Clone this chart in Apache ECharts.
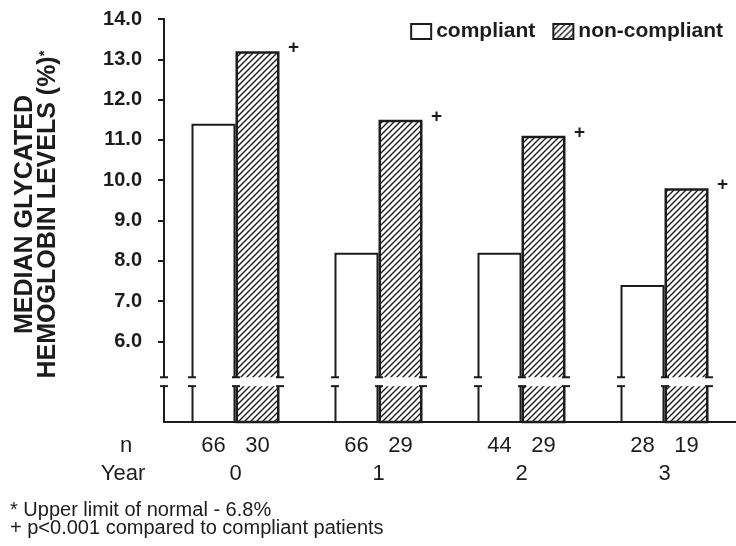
<!DOCTYPE html>
<html>
<head>
<meta charset="utf-8">
<script src="https://cdn.jsdelivr.net/npm/echarts@6/dist/echarts.min.js"></script>
<style>
html,body{margin:0;padding:0;background:#fff;}
#chart{width:736px;height:546px;}
</style>
</head>
<body>
<div id="chart"></div>
<script>
// ---- data ----
const categories = ['0', '1', '2', '3'];
const compliant = [11.4, 8.2, 8.2, 7.4];
const nonCompliant = [13.2, 11.5, 11.1, 9.8];
const nCompliant = [66, 66, 44, 28];
const nNonCompliant = [30, 29, 29, 19];
const yTicks = [6, 7, 8, 9, 10, 11, 12, 13, 14];
const seriesNames = ['compliant', 'non-compliant'];
const breakValue = 5;        // axis break drawn around this value
const breakHalf = 0.11;
const notes = ['* Upper limit of normal - 6.8%', '+ p<0.001 compared to compliant patients'];

// ---- hatch pattern ----
function makeHatch() {
  const s = 6;
  const c = document.createElement('canvas');
  c.width = s; c.height = s;
  const ctx = c.getContext('2d');
  ctx.fillStyle = '#fff';
  ctx.fillRect(0, 0, s, s);
  ctx.strokeStyle = '#1e1e1e';
  ctx.lineWidth = 1.4;
  ctx.beginPath();
  ctx.moveTo(-1, s + 1); ctx.lineTo(s + 1, -1);
  ctx.moveTo(-1, 1); ctx.lineTo(1, -1);
  ctx.moveTo(s - 1, s + 1); ctx.lineTo(s + 1, s - 1);
  ctx.stroke();
  return c;
}
const hatch = { image: makeHatch(), repeat: 'repeat' };

const FONT = "'Liberation Sans', Arial, sans-serif";
const INK = '#1c1c1c';

const chart = echarts.init(document.getElementById('chart'), null, { renderer: 'canvas' });

const option = {
  backgroundColor: '#fff',
  animation: false,
  textStyle: { fontFamily: FONT, color: INK },
  grid: { left: 164, right: -3, top: 19, bottom: 124, containLabel: false },
  legend: {
    data: seriesNames,
    right: 8, top: 16,
    itemWidth: 20, itemHeight: 15, itemGap: 17,
    icon: 'rect',
    textStyle: { fontFamily: FONT, fontSize: 21, fontWeight: 'bold', color: INK }
  },
  xAxis: {
    type: 'category',
    data: categories,
    boundaryGap: true,
    axisLine: { show: true, lineStyle: { color: INK, width: 2 } },
    axisTick: { show: false },
    splitLine: { show: false },
    axisLabel: {
      margin: 10,
      interval: 0,
      formatter: function (val, idx) {
        return '{a|' + nCompliant[idx] + '}{b|' + nNonCompliant[idx] + '}\n{y|' + val + '}';
      },
      rich: {
        a: { width: 44, align: 'center', fontSize: 22, lineHeight: 28, fontFamily: FONT, color: INK },
        b: { width: 44, align: 'center', fontSize: 22, lineHeight: 28, fontFamily: FONT, color: INK },
        y: { width: 88, align: 'center', fontSize: 22, lineHeight: 28, fontFamily: FONT, color: INK }
      }
    }
  },
  yAxis: {
    type: 'value',
    min: 4, max: 14, interval: 1,
    name: 'MEDIAN GLYCATED\nHEMOGLOBIN LEVELS (%){sup|*}',
    nameLocation: 'middle',
    nameRotate: 90,
    nameGap: 104,
    nameTextStyle: {
      fontFamily: FONT, fontSize: 25, fontWeight: 'bold', color: INK, lineHeight: 23,
      padding: [0, 0, 0, 12],
      rich: { sup: { fontSize: 15, fontWeight: 'bold', verticalAlign: 'top', lineHeight: 23, padding: [0, 0, 8, 0] } }
    },
    axisLine: { show: true, lineStyle: { color: INK, width: 2 } },
    axisTick: { show: true, inside: false, length: 6, customValues: yTicks, lineStyle: { color: INK, width: 2 } },
    axisLabel: {
      customValues: yTicks,
      margin: 22,
      fontFamily: FONT, fontSize: 20, fontWeight: 'bold', color: INK,
      formatter: function (v) { return v.toFixed(1); }
    },
    splitLine: { show: false }
  },
  series: [
    {
      name: seriesNames[0],
      type: 'bar',
      data: compliant,
      barWidth: 44,
      barGap: '0%',
      itemStyle: { color: '#fff', borderColor: INK, borderWidth: 2 },
      label: { show: false }
    },
    {
      name: seriesNames[1],
      type: 'bar',
      data: nonCompliant,
      barWidth: 44,
      barGap: '0%',
      itemStyle: { color: hatch, borderColor: INK, borderWidth: 2.5 },
      label: {
        show: true,
        formatter: '+',
        position: [58, -3],
        align: 'center',
        verticalAlign: 'middle',
        fontSize: 19,
        fontWeight: 'bold',
        fontFamily: FONT,
        color: INK
      }
    }
  ]
};

chart.setOption(option);

// ---- axis break + row titles + notes (positions derived from the library's scales) ----
function decorate() {
  const yTop = chart.convertToPixel({ yAxisIndex: 0 }, breakValue + breakHalf);
  const yBot = chart.convertToPixel({ yAxisIndex: 0 }, breakValue - breakHalf);
  const xs = [chart.getModel().getComponent('grid', 0).coordinateSystem.getRect().x];
  for (let s = 0; s < 2; s++) {
    const d = chart.getModel().getSeriesByIndex(s).getData();
    for (let i = 0; i < d.count(); i++) {
      const l = d.getItemLayout(i);
      xs.push(l.x, l.x + l.width);
    }
  }
  const gfx = [];
  gfx.push({
    type: 'rect', z: 50,
    shape: { x: xs[0] - 10, y: yTop, width: 800, height: yBot - yTop },
    style: { fill: '#fff' }
  });
  const uniq = Array.from(new Set(xs.map(v => Math.round(v))));
  uniq.forEach(function (x) {
    [yTop, yBot].forEach(function (y) {
      gfx.push({
        type: 'line', z: 51,
        shape: { x1: x - 4, y1: y, x2: x + 4, y2: y },
        style: { stroke: INK, lineWidth: 2 }
      });
    });
  });
  const yAxisLine = chart.convertToPixel({ yAxisIndex: 0 }, 4);
  gfx.push({ type: 'text', z: 60, x: 126, y: yAxisLine + 24,
    style: { text: 'n', font: '22px ' + FONT, fill: INK, align: 'center', verticalAlign: 'middle' } });
  gfx.push({ type: 'text', z: 60, x: 123, y: yAxisLine + 52,
    style: { text: 'Year', font: '22px ' + FONT, fill: INK, align: 'center', verticalAlign: 'middle' } });
  notes.forEach(function (t, i) {
    gfx.push({ type: 'text', z: 60, left: 10, top: 500 + i * 18,
      style: { text: t, font: '20px ' + FONT, fill: INK } });
  });
  chart.setOption({ graphic: gfx });
}
decorate();
</script>
</body>
</html>
